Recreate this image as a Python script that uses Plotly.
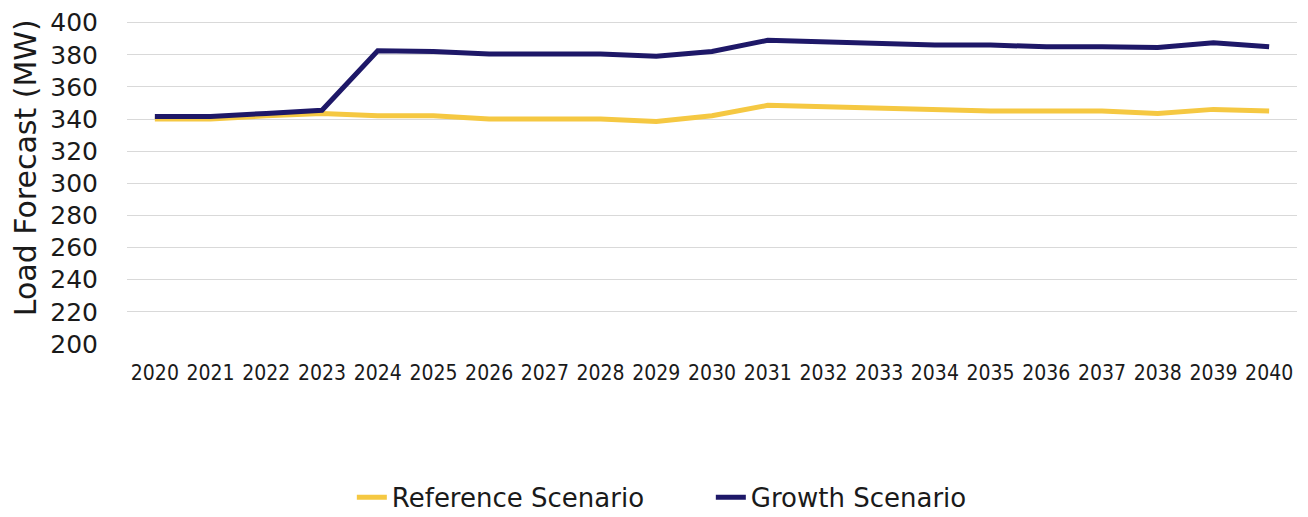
import plotly.graph_objects as go

years = [str(y) for y in range(2020, 2041)]
reference = [340, 340, 342, 343.5, 342, 342, 340, 340, 340, 338.5, 342,
             348.5, 347.5, 346.5, 345.5, 345, 345, 345, 343.5, 346, 345]
growth = [341.5, 341.5, 343.5, 345.5, 382.5, 382, 380.5, 380.5, 380.5, 379, 382,
          389, 388, 387, 386, 386, 385, 385, 384.5, 387.5, 385]
y_ticks = list(range(200, 401, 20))

FONT = "DejaVu Sans, Verdana, sans-serif"

fig = go.Figure()
fig.add_trace(go.Scatter(x=years, y=reference, mode="lines", name="Reference Scenario",
                         line=dict(color="#F5C842", width=5)))
fig.add_trace(go.Scatter(x=years, y=growth, mode="lines", name="Growth Scenario",
                         line=dict(color="#1E1868", width=5)))

fig.update_layout(
    width=1300, height=509,
    margin=dict(l=119, r=11, t=13, b=173, autoexpand=False),
    paper_bgcolor="white", plot_bgcolor="white",
    font=dict(family=FONT, color="#1a1a1a"),
    showlegend=True,
    legend=dict(orientation="h", x=0.499, xanchor="center", y=-0.475, yanchor="middle",
                font=dict(size=26, family=FONT), tracegroupgap=0,
                entrywidth=314, entrywidthmode="pixels"),
)
fig.add_annotation(text="Load Forecast (MW)", textangle=-90, xref="paper", yref="paper",
                   x=-0.0872, y=0.547, xanchor="center", yanchor="middle", showarrow=False,
                   font=dict(size=30, family=FONT, color="#1a1a1a"))
fig.update_xaxes(
    type="category", range=[-0.5, 20.5], showgrid=False, zeroline=False, showline=False,
    automargin=False,
    ticks="outside", ticklen=10, tickcolor="rgba(0,0,0,0)",
    tickfont=dict(size=21, family="DejaVu Sans Condensed, DejaVu Sans, sans-serif"),
)
fig.update_yaxes(
    range=[200, 401], tickvals=y_ticks, showgrid=True, gridcolor="#D9D9D9", gridwidth=1,
    zeroline=False, showline=False, automargin=False, ticklabeloverflow="allow",
    ticks="outside", ticklen=23, tickcolor="rgba(0,0,0,0)",
    tickfont=dict(size=25, family=FONT),
)

fig.write_html("out.html")
